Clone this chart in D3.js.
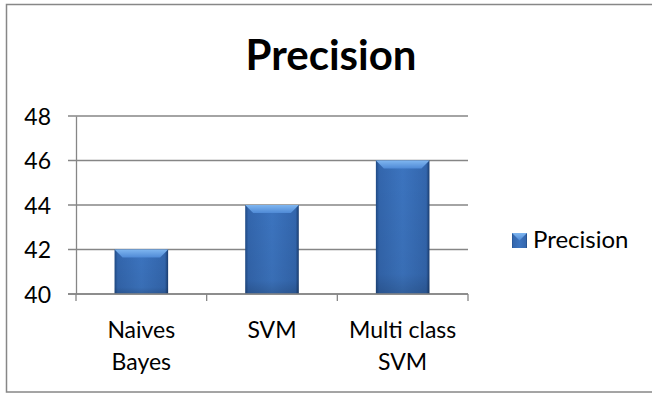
<!DOCTYPE html>
<html>
<head>
<meta charset="utf-8">
<script src="https://cdn.jsdelivr.net/npm/d3@7"></script>
<style>
  html, body { margin: 0; padding: 0; background: #fff; }
  svg text { font-family: Lato, "Open Sans", sans-serif; fill: #000; }
</style>
</head>
<body>
<svg id="chart" width="652" height="394"></svg>
<script>
// Chart data
const categories = [["Naives", "Bayes"], ["SVM"], ["Multi class", "SVM"]];
const precision = [42, 44, 46];
const yTicks = [40, 42, 44, 46, 48];
const seriesName = "Precision";
const chartTitle = "Precision";

const svg = d3.select("#chart");

// Outer chart frame
svg.append("rect")
  .attr("x", 6.5).attr("y", 4.5)
  .attr("width", 660).attr("height", 387.5)
  .attr("fill", "#fff").attr("stroke", "#878787").attr("stroke-width", 1.5);

const plot = { left: 76, right: 468, top: 116, bottom: 294 };

const x = d3.scaleBand()
  .domain(d3.range(categories.length))
  .range([plot.left, plot.right])
  .paddingInner(0.59).paddingOuter(0.295);

const y = d3.scaleLinear().domain([40, 48]).range([plot.bottom, plot.top]);

// Bar shading
const defs = svg.append("defs");
const body = defs.append("linearGradient").attr("id", "barBody")
  .attr("x1", 0).attr("x2", 1).attr("y1", 0).attr("y2", 0);
body.append("stop").attr("offset", 0).attr("stop-color", "#1f4a85");
body.append("stop").attr("offset", 0.06).attr("stop-color", "#3366ad");
body.append("stop").attr("offset", 0.5).attr("stop-color", "#3c74bf");
body.append("stop").attr("offset", 0.94).attr("stop-color", "#3366ad");
body.append("stop").attr("offset", 1).attr("stop-color", "#1a3d70");

const vshade = defs.append("linearGradient").attr("id", "barShade")
  .attr("x1", 0).attr("x2", 0).attr("y1", 0).attr("y2", 1);
vshade.append("stop").attr("offset", 0).attr("stop-color", "#000").attr("stop-opacity", 0);
vshade.append("stop").attr("offset", 0.85).attr("stop-color", "#000").attr("stop-opacity", 0.05);
vshade.append("stop").attr("offset", 1).attr("stop-color", "#000").attr("stop-opacity", 0.18);

const bevel = defs.append("linearGradient").attr("id", "barBevel")
  .attr("x1", 0).attr("x2", 0).attr("y1", 0).attr("y2", 1);
bevel.append("stop").attr("offset", 0).attr("stop-color", "#7fb6f0");
bevel.append("stop").attr("offset", 1).attr("stop-color", "#4f8ad6");

// Gridlines
svg.append("g").selectAll("line").data(yTicks).join("line")
  .attr("x1", plot.left - 8).attr("x2", plot.right)
  .attr("y1", d => y(d)).attr("y2", d => y(d))
  .attr("stroke", "#868686").attr("stroke-width", 1.3);

// Y axis
const yAxis = d3.axisLeft(y).tickValues(yTicks).tickSize(0).tickPadding(25);
const gy = svg.append("g").attr("transform", `translate(${plot.left},0)`).call(yAxis);
gy.select(".domain").attr("stroke", "#868686").attr("stroke-width", 1.3);
gy.selectAll("text").attr("font-size", 23).attr("dy", "0.36em")
  .style("font-family", "Lato, 'Open Sans', sans-serif");

// X axis with ticks between categories
const xTicks = d3.range(categories.length + 1).map(i => plot.left + i * (plot.right - plot.left) / categories.length);
svg.append("g").selectAll("line").data(xTicks).join("line")
  .attr("x1", d => d).attr("x2", d => d)
  .attr("y1", plot.bottom).attr("y2", plot.bottom + 7)
  .attr("stroke", "#868686").attr("stroke-width", 1.3);

// Bars
const bars = svg.append("g").selectAll("g").data(precision).join("g");
bars.append("rect")
  .attr("x", (d, i) => x(i)).attr("y", d => y(d))
  .attr("width", x.bandwidth()).attr("height", d => y(40) - y(d))
  .attr("fill", "url(#barBody)");
bars.append("rect")
  .attr("x", (d, i) => x(i)).attr("y", d => y(d))
  .attr("width", x.bandwidth()).attr("height", d => y(40) - y(d))
  .attr("fill", "url(#barShade)");
bars.append("path")
  .attr("d", (d, i) => {
    const x0 = x(i), x1 = x(i) + x.bandwidth(), t = y(d), b = 8;
    return `M${x0},${t}L${x1},${t}L${x1 - b},${t + b}L${x0 + b},${t + b}Z`;
  })
  .attr("fill", "url(#barBevel)");
// Redraw the baseline over the bar feet
svg.append("line")
  .attr("x1", plot.left - 8).attr("x2", plot.right)
  .attr("y1", plot.bottom).attr("y2", plot.bottom)
  .attr("stroke", "#868686").attr("stroke-width", 1.3);

// Category labels
const lab = svg.append("g").selectAll("text").data(categories).join("text")
  .attr("text-anchor", "middle").attr("font-size", 23)
  .attr("x", (d, i) => x(i) + x.bandwidth() / 2)
  .attr("y", 338);
lab.selectAll("tspan").data(d => d).join("tspan")
  .attr("x", function () { return d3.select(this.parentNode).attr("x"); })
  .attr("dy", (d, j) => j === 0 ? 0 : 32)
  .text(d => d);

// Title
svg.append("text")
  .attr("x", 331).attr("y", 70)
  .attr("text-anchor", "middle")
  .attr("font-size", 42).attr("font-weight", "bold")
  .text(chartTitle);

// Legend
const lg = svg.append("g").attr("transform", "translate(512,233)");
lg.append("rect").attr("width", 15).attr("height", 15).attr("fill", "url(#barBody)");
lg.append("path").attr("d", "M0,0L15,0L7.5,7.5Z").attr("fill", "url(#barBevel)");
lg.append("text").attr("x", 21).attr("y", 15).attr("font-size", 24).text(seriesName);
</script>
</body>
</html>
